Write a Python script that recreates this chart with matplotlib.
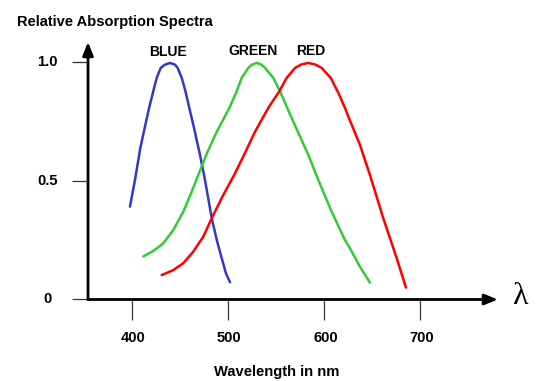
import matplotlib
matplotlib.use("Agg")
import matplotlib.pyplot as plt

# ---- data ----
blue_x = [398.2, 403.4, 409.0, 414.9, 418.5, 422.5, 426.0, 430.1, 434.6, 439.8, 445.0, 447.8, 452.0,
          455.8, 459.9, 465.0, 471.0, 476.2, 483.2, 488.5, 493.6, 498.0, 502.2]
blue_y = [0.392, 0.504, 0.640, 0.750, 0.815, 0.880, 0.935, 0.977, 0.991, 0.998, 0.991, 0.977, 0.935,
          0.880, 0.808, 0.720, 0.610, 0.504, 0.343, 0.250, 0.174, 0.110, 0.073]

green_x = [412.1, 422.5, 432.8, 443.2, 453.6, 462.4, 469.2, 478.5, 488.4, 501.5, 509.1, 514.3, 521.2,
           525.5, 529.9, 534.5, 538.6, 547.2, 554.2, 561.7, 568.0, 583.6, 594.0, 607.9, 621.7,
           626.9, 637.0, 647.7]
green_y = [0.182, 0.205, 0.237, 0.293, 0.370, 0.455, 0.525, 0.620, 0.708, 0.808, 0.878, 0.935, 0.977,
           0.992, 0.998, 0.992, 0.977, 0.935, 0.878, 0.808, 0.750, 0.610, 0.504, 0.370, 0.251,
           0.216, 0.140, 0.071]

red_x = [431.2, 443.2, 453.6, 464.0, 474.4, 483.2, 495.2, 507.4, 518.0, 528.2, 536.0, 543.0, 553.4,
         561.1, 569.8, 576.5, 583.6, 590.5, 597.5, 606.9, 614.8, 621.7, 626.9, 637.3, 647.7,
         661.5, 675.5, 685.1]
red_y = [0.103, 0.124, 0.153, 0.202, 0.265, 0.343, 0.441, 0.532, 0.620, 0.708, 0.765, 0.815, 0.878,
         0.935, 0.977, 0.992, 0.998, 0.992, 0.977, 0.935, 0.872, 0.808, 0.755, 0.652, 0.525,
         0.343, 0.174, 0.050]

x_ticks = [400, 500, 600, 700]
x_tick_labels = ["400", "500", "600", "700"]
y_ticks = [0, 0.5, 1.0]
y_tick_labels = ["0", "0.5", "1.0"]

curve_labels = ["BLUE", "GREEN", "RED"]
curve_label_pos = [(437.7, 1.044), (525.8, 1.049), (586.1, 1.049)]

# ---- figure ----
fig = plt.figure(figsize=(5.42, 3.81), dpi=100)
ax = fig.add_axes([0, 0, 1, 1])
ax.set_xlim(263.1, 826.5)
ax.set_ylim(-0.3439, 1.2637)
ax.axis("off")

font = dict(family=["Liberation Sans", "DejaVu Sans"], fontweight="bold")

x0 = 354.6      # position of the vertical axis (data x)
x_end = 780.7   # tip of x arrow
y_end = 1.0865  # tip of y arrow

# axis lines with arrows
arrow = dict(arrowstyle="-|>,head_length=0.4,head_width=0.16", mutation_scale=20,
             color="black", lw=2.0, shrinkA=0, shrinkB=0)
ax.annotate("", xy=(x_end, 0), xytext=(x0, 0), arrowprops=arrow)
ax.annotate("", xy=(x0, y_end), xytext=(x0, 0), arrowprops=arrow)

# ticks
ax.vlines(x_ticks, -0.0865, 0, color="#333333", lw=0.9)
ax.hlines(y_ticks, 337.5, x0, color="#333333", lw=0.9)

for xt, lab in zip(x_ticks, x_tick_labels):
    ax.text(xt + 1.5, -0.162, lab, ha="center", va="center", fontsize=10.6, **font)
for yt, lab in zip(y_ticks, y_tick_labels):
    ax.text(312.5, yt, lab, ha="center", va="center", fontsize=10.6, **font)

# curves
line_kw = dict(lw=1.8, solid_capstyle="round", solid_joinstyle="round")
ax.plot(blue_x, blue_y, color="#3636c8", **line_kw)
ax.plot(green_x, green_y, color="#33cc33", **line_kw)
ax.plot(red_x, red_y, color="#ff0000", **line_kw)

for lab, (lx, ly) in zip(curve_labels, curve_label_pos):
    ax.text(lx, ly, lab, ha="center", va="center", fontsize=10, **font)

# titles
ax.text(280.8, 1.171, "Relative Absorption Spectra", ha="left", va="center", fontsize=10.5, **font)
ax.text(550.5, -0.305, "Wavelength in nm", ha="center", va="center", fontsize=10.6, **font)
ax.text(803.6, 0.012, "λ", ha="center", va="center", fontsize=23,
        family=["Liberation Serif", "DejaVu Serif"])

fig.savefig("out.png", dpi=100)
